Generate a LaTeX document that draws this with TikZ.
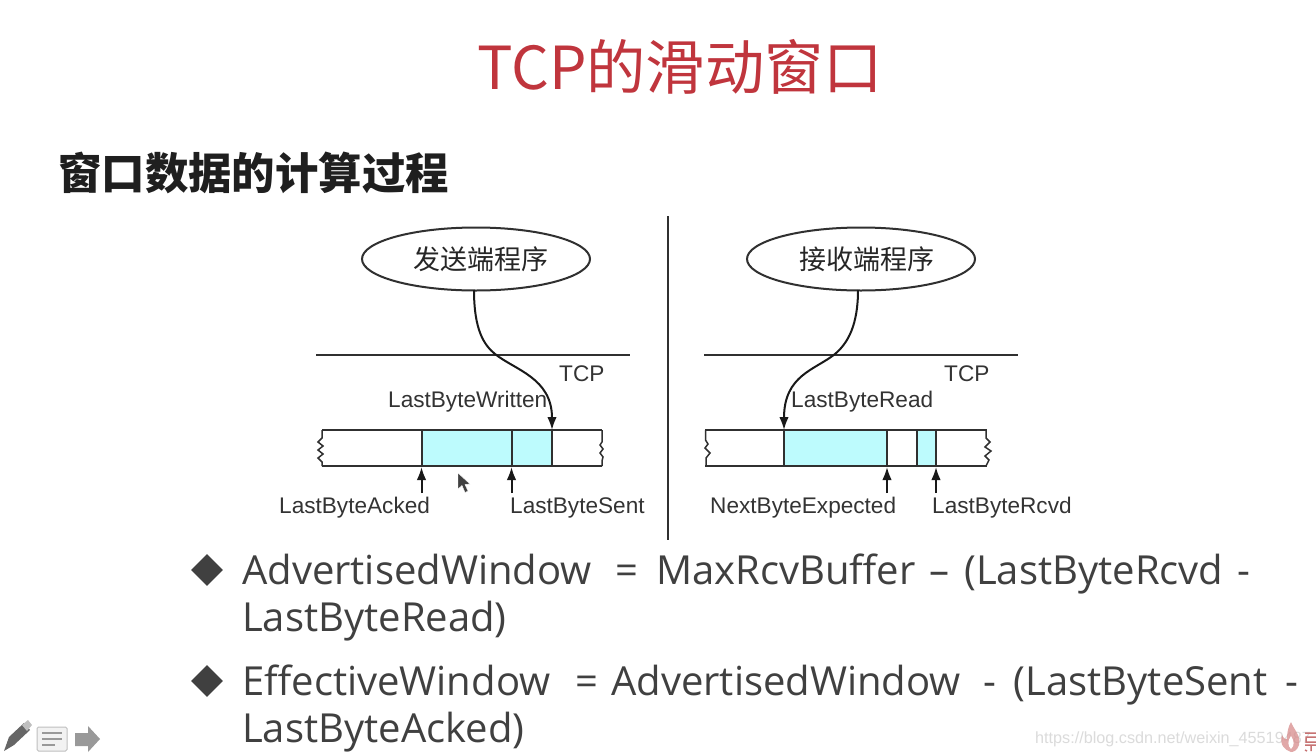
\documentclass[tikz,border=0pt]{standalone}
\usepackage{fontspec}
\setmainfont{Open Sans}
\newfontfamily\cjkfont{Noto Sans CJK SC}
\newfontfamily\labelfont{Liberation Sans}
\usetikzlibrary{shapes.geometric,arrows.meta}
\definecolor{titlered}{HTML}{C0353D}
\definecolor{bodygray}{HTML}{404040}
\definecolor{linegray}{HTML}{303030}
\definecolor{cellcyan}{HTML}{BDFBFD}
\tikzset{
  x=1pt,y=-1pt,
  txt/.style={inner sep=0pt,anchor=base west},
  titletext/.style={txt,text=titlered,font=\cjkfont\fontsize{59.3}{59.3}\selectfont},
  headtext/.style={txt,text=black!88,font=\cjkfont\bfseries\fontsize{43.4}{43.4}\selectfont},
  bodytext/.style={txt,text=bodygray,font=\fontsize{40}{40}\selectfont},
  lbl/.style={txt,text=black!80,font=\labelfont\fontsize{22.6}{22.6}\selectfont},
  proc/.style={ellipse,draw=linegray,line width=2pt,minimum width=228pt,minimum height=63pt,inner sep=0pt,font=\cjkfont\fontsize{27}{27}\selectfont,text=black!85},
  rule/.style={draw=linegray,line width=2pt},
  bar/.style={draw=linegray,line width=2pt},
  cell/.style={fill=cellcyan,draw=none},
  ptr/.style={draw=black!90,line width=2pt,-{Latex[length=13pt,width=9.5pt]}},
  bullet/.style={diamond,fill=bodygray,minimum width=32pt,minimum height=32pt,inner sep=0pt},
}
\begin{document}
\begin{tikzpicture}
\useasboundingbox (0,0) rectangle (1316,755);
\fill[white] (0,0) rectangle (1316,755);
% headings
\node[titletext] (title) at (477,89) {TCP的滑动窗口};
\node[headtext] (head) at (58,189) {窗口数据的计算过程};
% centre divider
\coordinate (dt) at (667.5,216); \coordinate (db) at (667.5,540);
\draw[linegray,line width=2pt] (dt) -- (db);
% left cells
\fill[cell] (421.5,430) rectangle (552,466);
% left bar
\draw[bar] (322,430) -- (602,430);
\draw[bar] (322,466) -- (602,466);
\draw[bar,line width=1.5pt] (322,430) -- (322,438) -- (318,442) -- (323,446) -- (318,450) -- (323,454) -- (318,458) -- (322,462) -- (322,466);
\draw[bar,line width=1.5pt] (602,430) -- (602,442) -- (600,445) -- (603,449) -- (600,453) -- (603,457) -- (602,461) -- (602,466);
\foreach \p in {421.5,511.5,552}{\draw[bar] (\p,430) -- (\p,466);}
% left labels, nodes
\node[proc] (send) at (476,259) {\hspace*{10pt}发送端程序};
\coordinate (slt) at (316,354.5); \coordinate (sle) at (630,354.5);
\draw[rule] (slt) -- (sle);
\node[lbl] (tcpa) at (559,381.5) {TCP};
\node[lbl] (lbw) at (388,407) {LastByteWritten};
\coordinate (wr) at (552,430);
\draw[ptr] (474,290) .. controls (474,330) and (484,345) .. (495,354) .. controls (515,370) and (552,378) .. (wr);
\node[lbl] (lba) at (279,513) {LastByteAcked};
\node[lbl] (lbs) at (510,513) {LastByteSent};
\coordinate (a1) at (421.5,493); \coordinate (a1t) at (421.5,467);
\coordinate (a2) at (511.5,493); \coordinate (a2t) at (511.5,467);
\draw[ptr] (a1) -- (a1t);
\draw[ptr] (a2) -- (a2t);
% right cells
\fill[cell] (784,430) rectangle (887,466);
\fill[cell] (917,430) rectangle (936,466);
\draw[bar] (705,430) -- (987,430);
\draw[bar] (705,466) -- (987,466);
\draw[bar,line width=1.5pt] (705.5,430) -- (705.5,440) -- (708,444) -- (705,448) -- (710,453) -- (706,458) -- (706,466);
\draw[bar,line width=1.5pt] (986,430) -- (986,438) -- (990,442) -- (985,447) -- (991,451) -- (985,456) -- (989,460) -- (986,466);
\foreach \p in {784,887,917,936}{\draw[bar] (\p,430) -- (\p,466);}
\node[proc] (recv) at (861,259) {\hspace*{12pt}接收端程序};
\coordinate (rlt) at (704,354.5); \coordinate (rle) at (1018,354.5);
\draw[rule] (rlt) -- (rle);
\node[lbl] (tcpb) at (944,381.5) {TCP};
\node[lbl] (lbr) at (791,407) {LastByteRead};
\coordinate (rd) at (784,430);
\draw[ptr] (858,290) .. controls (858,325) and (848,343) .. (835,354) .. controls (815,370) and (784,375) .. (rd);
\node[lbl] (nbe) at (710,513) {NextByteExpected};
\node[lbl] (lbc) at (932,513) {LastByteRcvd};
\coordinate (a3) at (887,493); \coordinate (a3t) at (887,467);
\coordinate (a4) at (936,493); \coordinate (a4t) at (936,467);
\draw[ptr] (a3) -- (a3t);
\draw[ptr] (a4) -- (a4t);
% mouse cursor
\fill[black!75,draw=white,line width=.4pt] (458,473) -- (458,489) -- (462,485.5) -- (465,492.5) -- (468,491) -- (465,484.5) -- (470,484) -- cycle;
% bullets
\node[bullet] (b1) at (207,570) {};
\node[bodytext] (l1) at (242,584) {\spaceskip=15.7pt AdvertisedWindow\hspace{8pt} =\hspace{2pt} MaxRcvBuffer\hspace{-1.3pt} –\hspace{-1.3pt} (LastByteRcvd\hspace{-1.3pt} -};
\node[bodytext] (l2) at (242,631) {LastByteRead)};
\node[bullet] (b2) at (207,681) {};
\node[bodytext] (l3) at (242,695) {\spaceskip=17.5pt EffectiveWindow\hspace{8pt} =\hspace{-5pt} AdvertisedWindow\hspace{5pt} - (LastByteSent -};
\node[bodytext] (l4) at (242,742) {LastByteAcked)};
% toolbar icons
\fill[black!60] (4,751) -- (9,737) -- (24,723) -- (30,730) -- (14,745) -- cycle;
\fill[black!25] (22,725) -- (28,720) -- (32,725) -- (27,731) -- cycle;
\draw[black!25,fill=black!5,line width=1pt,rounded corners=1.5pt] (37,727) rectangle (67,751);
\foreach \yy/\xe in {733/62,739/62,745/55}{\draw[black!40,line width=1.6pt] (42,\yy) -- (\xe,\yy);}
\fill[black!40] (75,733) -- (88,733) -- (88,726) -- (100,739) -- (88,752) -- (88,746) -- (75,746) -- cycle;
% watermark
\node[txt,text=black!14,font=\labelfont\fontsize{16.2}{16.2}\selectfont] (wm) at (1035,743) {https://blog.csdn.net/weixin\_45519487};
\fill[red!65!black!45,opacity=.75] (1291,722) .. controls (1294,730) and (1301,735) .. (1299,745) .. controls (1297,751) and (1293,752) .. (1291,752) .. controls (1285,750) and (1279,745) .. (1282,735) .. controls (1284,739) and (1286,740) .. (1287,739) .. controls (1287,733) and (1288,727) .. (1291,722) -- cycle;
\fill[white] (1291,736) .. controls (1294,741) and (1295,745) .. (1291,749) .. controls (1288,746) and (1287,741) .. (1291,736) -- cycle;
% clipped red mark at the edge
\begin{scope}
\clip (1304,725) rectangle (1316,755);
\draw[red!60!black!55,line width=1.5pt] (1305,733) -- (1318,733) (1306,737) rectangle (1320,742) (1305,745) -- (1318,745) (1311,745) -- (1311,751) (1307,751) -- (1305,750);
\end{scope}
\end{tikzpicture}
\end{document}
